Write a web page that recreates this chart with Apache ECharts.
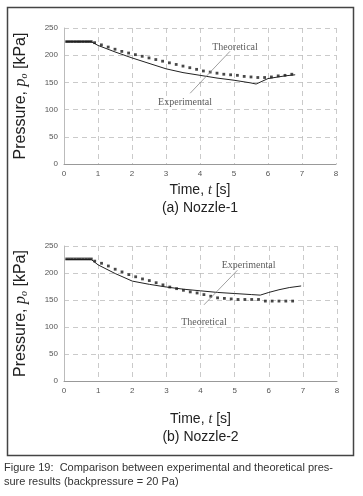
<!DOCTYPE html>
<html>
<head>
<meta charset="utf-8">
<script src="https://cdn.jsdelivr.net/npm/echarts@6/dist/echarts.min.js"></script>
<style>
  html, body { margin: 0; padding: 0; background: #fff; }
  #chart { width: 363px; height: 496px; }
</style>
</head>
<body>
<div id="chart"></div>
<script>
// time stamps for the theoretical (dotted) curves, shared by both nozzles
const theoTimes = [0.08, 0.16, 0.24, 0.32, 0.40, 0.48, 0.56, 0.64, 0.72, 0.80,
  0.9, 1.1, 1.3, 1.5, 1.7, 1.9, 2.1, 2.3, 2.5, 2.7, 2.9, 3.1, 3.3, 3.5, 3.7,
  3.9, 4.1, 4.3, 4.5, 4.7, 4.9, 5.1, 5.3, 5.5, 5.7, 5.9, 6.1, 6.3, 6.5, 6.7]

// (a) Nozzle-1
const theoTop = [225, 225, 225, 225, 225, 225, 225, 225, 225, 225,
  223, 219, 215, 211, 207, 204, 201, 198, 195, 192, 189, 186, 183, 180, 177,
  174, 171, 169, 167, 165, 164, 163, 161, 160, 159, 159, 160, 162, 163, 165]
const expTopT = [0.05, 0.8, 1.0, 1.5, 2.0, 2.5, 3.0, 3.5, 4.0, 4.5, 5.0, 5.5, 5.65, 6.0, 6.5, 6.8]
const expTop = [225, 225, 218, 206, 195, 185, 175, 168, 163, 158, 154, 149, 147, 157, 162, 164]

// (b) Nozzle-2
const theoBot = [226, 226, 226, 226, 226, 226, 226, 226, 226, 226,
  222, 218, 213, 207, 202, 197, 193, 189, 186, 182, 178, 174, 171, 168, 165,
  163, 160, 157, 154, 153, 152, 151, 151, 151, 151, 148, 148, 148, 148, 148]
const expBotT = [0.05, 0.8, 1.0, 1.5, 2.0, 2.5, 3.0, 3.5, 4.0, 4.5, 5.0, 5.5, 5.75, 6.0, 6.3, 6.6, 6.95]
const expBot = [225, 225, 215, 199, 185, 179, 174, 170, 167, 164, 162, 160, 159, 164, 169, 173, 176]

// annotation positions (data coords)
const topTheoLabel = [5.03, 215]
const topExpLabel = [3.56, 114]
const topLeader = [[4.88, 207], [3.71, 130]]
const botExpLabel = [5.41, 215]
const botTheoLabel = [4.1, 109]
const botLeader = [[5.08, 205], [4.1, 141]]

const subTitles = ['(a) Nozzle-1', '(b) Nozzle-2']

const zip = (xs, ys) => xs.map((x, i) => [x, ys[i]])

const chart = echarts.init(document.getElementById('chart'))

const gridLine = { show: true, lineStyle: { color: '#bdbdbd', type: [5, 4], width: 0.8 } }
const tickLabel = { color: '#555', fontSize: 8, fontFamily: 'Liberation Sans, Arial', margin: 6 }

const makeX = (idx, gap) => ({
  type: 'value', gridIndex: idx, min: 0, max: 8, interval: 1,
  axisLine: { show: true, lineStyle: { color: '#999', width: 1 } },
  axisTick: { show: false },
  axisLabel: tickLabel,
  splitLine: gridLine,
  name: 'Time, {i|t} [s]\n' + subTitles[idx],
  nameLocation: 'middle',
  nameGap: gap,
  nameTextStyle: {
    color: '#222', fontSize: 14, fontFamily: 'Liberation Sans, Arial', lineHeight: 18,
    rich: { i: { fontStyle: 'italic', fontFamily: 'Liberation Serif', fontSize: 14, color: '#222' } }
  }
})

const makeY = (idx) => ({
  type: 'value', gridIndex: idx, min: 0, max: 250, interval: 50,
  axisLine: { show: true, lineStyle: { color: '#bbb', width: 1 } },
  axisTick: { show: false },
  axisLabel: tickLabel,
  splitLine: gridLine,
  name: 'Pressure, {i|p}{s|o} [kPa]',
  nameLocation: 'middle',
  nameGap: 35,
  nameTextStyle: {
    color: '#222', fontSize: 16, fontFamily: 'Liberation Sans, Arial',
    rich: {
      i: { fontStyle: 'italic', fontFamily: 'Liberation Serif', fontSize: 16, color: '#222' },
      s: { fontStyle: 'italic', fontFamily: 'Liberation Serif', fontSize: 10, color: '#222', verticalAlign: 'bottom', lineHeight: 14 }
    }
  }
})

const theoSeries = (idx, data) => ({
  type: 'scatter', xAxisIndex: idx, yAxisIndex: idx,
  data, symbol: 'rect', symbolSize: 2.8,
  itemStyle: { color: '#1a1a1a' }, silent: true, z: 3
})

const expSeries = (idx, data, leader) => ({
  type: 'line', xAxisIndex: idx, yAxisIndex: idx,
  data, showSymbol: false, smooth: false,
  lineStyle: { color: '#222', width: 1 }, silent: true, z: 2,
  markLine: {
    symbol: 'none', silent: true, label: { show: false },
    lineStyle: { color: '#888', width: 0.8, type: 'solid' },
    data: [[{ coord: leader[0] }, { coord: leader[1] }]]
  }
})

const labelSeries = (idx, pos, text) => ({
  type: 'scatter', xAxisIndex: idx, yAxisIndex: idx,
  data: [pos], symbolSize: 1, itemStyle: { color: 'transparent' }, silent: true,
  label: {
    show: true, position: 'inside', formatter: text,
    color: '#333', fontSize: 10, fontFamily: 'Liberation Serif, Times New Roman'
  }
})

chart.setOption({
  animation: false,
  grid: [
    { left: 64, top: 28, width: 272, height: 136 },
    { left: 64, top: 246, width: 273, height: 135 }
  ],
  xAxis: [makeX(0, 17), makeX(1, 29)],
  yAxis: [makeY(0), makeY(1)],
  series: [
    expSeries(0, zip(expTopT, expTop), topLeader),
    theoSeries(0, zip(theoTimes, theoTop)),
    labelSeries(0, topTheoLabel, 'Theoretical'),
    labelSeries(0, topExpLabel, 'Experimental'),
    expSeries(1, zip(expBotT, expBot), botLeader),
    theoSeries(1, zip(theoTimes, theoBot)),
    labelSeries(1, botExpLabel, 'Experimental'),
    labelSeries(1, botTheoLabel, 'Theoretical')
  ],
  graphic: [
    {
      type: 'rect', left: 5, top: 5, silent: true,
      shape: { width: 346, height: 448 },
      style: { fill: 'none', stroke: '#444', lineWidth: 1.5 }
    },
    {
      type: 'text', left: 4, top: 461, silent: true,
      style: {
        text: 'Figure 19:  Comparison between experimental and theoretical pres-\nsure results (backpressure = 20 Pa)',
        fill: '#333', font: '11px Liberation Sans, Arial', lineHeight: 14
      }
    }
  ]
})

window.addEventListener('resize', () => chart.resize())
</script>
</body>
</html>
